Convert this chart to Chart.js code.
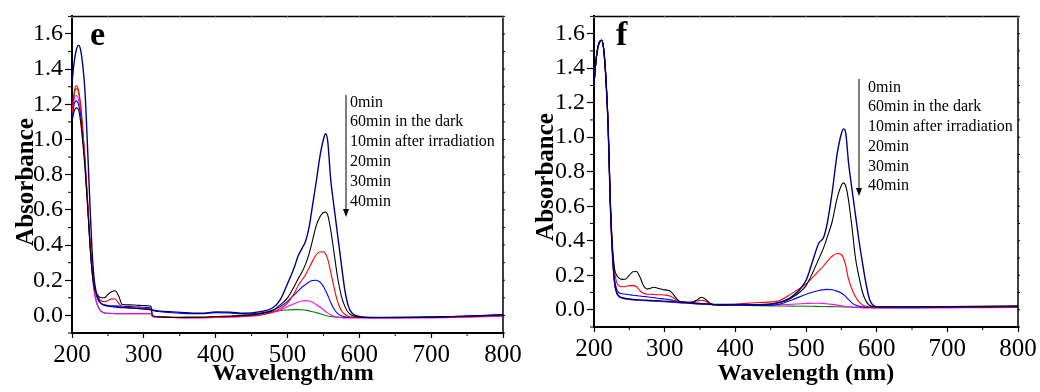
<!DOCTYPE html>
<html>
<head>
<meta charset="utf-8">
<script src="https://cdn.jsdelivr.net/npm/chart.js@4.4.1/dist/chart.umd.min.js"></script>
<style>
  html, body { margin: 0; padding: 0; background: #fff; }
  #wrap { position: relative; width: 1040px; height: 392px; }
  #wrap canvas { position: absolute; left: 0; top: 0; }
</style>
</head>
<body>
<div id="wrap">
  <canvas id="panelE" width="1040" height="392"></canvas>
  <canvas id="panelF" width="1040" height="392"></canvas>
</div>
<script>
// ---- spectra (absorbance vs wavelength, nm) ----
const LEGEND_LABELS = ["0min", "60min in the dark", "10min after irradiation", "20min", "30min", "40min"];
const LINE_COLORS = ["#000080", "#000000", "#ff0000", "#0000ff", "#ff00ff", "#008000"];

const X_TICKS = [200, 300, 400, 500, 600, 700, 800];
const X_MINOR = [250, 350, 450, 550, 650, 750];
const Y_TICKS = [0, 0.2, 0.4, 0.6, 0.8, 1.0, 1.2, 1.4, 1.6];
const Y_MINOR = [-0.1, 0.1, 0.3, 0.5, 0.7, 0.9, 1.1, 1.3, 1.5, 1.7];

// panel e
const WL_E = [
  200, 203, 206, 209, 212, 215, 218, 222, 225, 228,
  231, 235, 240, 245, 250, 255, 260, 265, 270, 280,
  290, 300, 310, 312, 320, 340, 360, 380, 400, 420,
  440, 460, 480, 490, 500, 510, 515, 520, 525, 530,
  535, 540, 545, 550, 553, 556, 560, 565, 570, 575,
  580, 585, 590, 600, 620, 650, 700, 750, 800
];
const E_0MIN = [
  1.32, 1.44, 1.51, 1.535, 1.51, 1.42, 1.28, 0.92, 0.63, 0.36,
  0.20, 0.11, 0.07, 0.058, 0.053, 0.05, 0.048, 0.046, 0.044, 0.042,
  0.04, 0.036, 0.032, 0.03, 0.026, 0.02, 0.015, 0.012, 0.02, 0.018,
  0.012, 0.02, 0.045, 0.09, 0.18, 0.28, 0.34, 0.38, 0.42, 0.5,
  0.63, 0.76, 0.9, 1.0, 1.033, 0.99, 0.78, 0.61, 0.45, 0.29,
  0.14, 0.05, 0.012, -0.006, -0.012, -0.012, -0.01, -0.004, 0.004
];
const E_60DARK = [
  1.10, 1.16, 1.18, 1.17, 1.10, 0.98, 0.84, 0.60, 0.40, 0.25,
  0.16, 0.12, 0.10, 0.10, 0.12, 0.135, 0.14, 0.11, 0.062, 0.06,
  0.058, 0.056, 0.052, 0.0, -0.008, -0.012, -0.01, -0.01, -0.006, -0.004,
  0.0, 0.008, 0.03, 0.06, 0.10, 0.17, 0.21, 0.245, 0.29, 0.35,
  0.43, 0.51, 0.56, 0.585, 0.588, 0.57, 0.49, 0.35, 0.21, 0.11,
  0.05, 0.015, 0.0, -0.01, -0.012, -0.012, -0.01, -0.005, 0.003
];
const E_10MIN = [
  1.15, 1.27, 1.305, 1.28, 1.20, 1.06, 0.90, 0.64, 0.42, 0.26,
  0.16, 0.11, 0.085, 0.078, 0.085, 0.094, 0.093, 0.07, 0.048, 0.044,
  0.042, 0.04, 0.038, -0.002, -0.008, -0.01, -0.012, -0.012, -0.01, -0.008,
  -0.004, 0.002, 0.02, 0.04, 0.07, 0.13, 0.17, 0.20, 0.23, 0.27,
  0.31, 0.345, 0.36, 0.362, 0.35, 0.32, 0.25, 0.155, 0.075, 0.028,
  0.005, -0.006, -0.01, -0.012, -0.013, -0.013, -0.012, -0.008, 0.0
];
const E_20MIN = [
  1.12, 1.20, 1.22, 1.20, 1.14, 1.02, 0.87, 0.62, 0.42, 0.27,
  0.17, 0.10, 0.07, 0.06, 0.056, 0.055, 0.054, 0.053, 0.052, 0.05,
  0.048, 0.046, 0.04, 0.03, 0.022, 0.015, 0.01, 0.01, 0.016, 0.014,
  0.008, 0.012, 0.03, 0.05, 0.08, 0.12, 0.14, 0.16, 0.175, 0.19,
  0.198, 0.20, 0.19, 0.165, 0.14, 0.115, 0.075, 0.035, 0.01, -0.002,
  -0.008, -0.01, -0.012, -0.012, -0.012, -0.012, -0.01, -0.005, 0.002
];
const E_30MIN = [
  1.15, 1.23, 1.25, 1.23, 1.16, 1.03, 0.87, 0.61, 0.40, 0.24,
  0.13, 0.06, 0.025, 0.014, 0.012, 0.011, 0.01, 0.01, 0.01, 0.01,
  0.01, 0.01, 0.01, -0.006, -0.01, -0.012, -0.014, -0.014, -0.012, -0.01,
  -0.006, 0.0, 0.018, 0.03, 0.05, 0.068, 0.076, 0.082, 0.084, 0.082,
  0.075, 0.062, 0.048, 0.032, 0.022, 0.014, 0.004, -0.005, -0.01, -0.013,
  -0.015, -0.015, -0.015, -0.015, -0.015, -0.015, -0.014, -0.01, -0.004
];
const E_40MIN = [
  1.12, 1.25, 1.29, 1.27, 1.19, 1.05, 0.88, 0.62, 0.41, 0.25,
  0.14, 0.065, 0.028, 0.015, 0.012, 0.011, 0.01, 0.01, 0.01, 0.01,
  0.01, 0.01, 0.01, -0.006, -0.01, -0.012, -0.013, -0.012, -0.01, -0.006,
  0.0, 0.01, 0.022, 0.028, 0.031, 0.033, 0.033, 0.032, 0.03, 0.026,
  0.021, 0.016, 0.01, 0.004, 0.0, -0.003, -0.006, -0.009, -0.01, -0.011,
  -0.012, -0.012, -0.012, -0.012, -0.012, -0.011, -0.01, -0.005, 0.0
];

// panel f
const WL_F = [
  200, 203, 206, 209, 211, 214, 217, 220, 223, 226,
  229, 232, 235, 240, 245, 250, 255, 260, 265, 270,
  275, 280, 285, 290, 300, 307, 312, 318, 322, 330,
  340, 347, 352, 358, 365, 370, 380, 400, 433, 460,
  480, 500, 510, 518, 525, 530, 537, 544, 550, 553,
  556, 560, 565, 570, 575, 580, 585, 590, 600, 650,
  700, 750, 800
];
const F_0MIN = [
  1.31, 1.45, 1.53, 1.558, 1.562, 1.50, 1.33, 1.06, 0.62, 0.33,
  0.16, 0.10, 0.08, 0.07, 0.065, 0.062, 0.06, 0.058, 0.057, 0.056,
  0.055, 0.054, 0.053, 0.052, 0.05, 0.048, 0.046, 0.044, 0.043, 0.041,
  0.038, 0.036, 0.035, 0.034, 0.032, 0.031, 0.03, 0.03, 0.028, 0.04,
  0.076, 0.17, 0.29, 0.385, 0.42, 0.50, 0.68, 0.90, 1.02, 1.048,
  1.03, 0.86, 0.70, 0.55, 0.40, 0.27, 0.15, 0.06, 0.018, 0.016,
  0.017, 0.018, 0.02
];
const F_60DARK = [
  1.31, 1.45, 1.53, 1.558, 1.562, 1.50, 1.33, 1.08, 0.65, 0.38,
  0.24, 0.20, 0.185, 0.176, 0.178, 0.20, 0.22, 0.222, 0.19, 0.14,
  0.12, 0.125, 0.13, 0.125, 0.115, 0.11, 0.09, 0.06, 0.047, 0.043,
  0.045, 0.06, 0.072, 0.06, 0.035, 0.028, 0.028, 0.03, 0.03, 0.04,
  0.07, 0.14, 0.22, 0.294, 0.36, 0.42, 0.51, 0.645, 0.72, 0.735,
  0.72, 0.64, 0.48, 0.30, 0.19, 0.10, 0.05, 0.025, 0.018, 0.016,
  0.017, 0.018, 0.02
];
const F_10MIN = [
  1.31, 1.45, 1.53, 1.558, 1.562, 1.50, 1.33, 1.07, 0.64, 0.36,
  0.22, 0.16, 0.14, 0.133, 0.135, 0.14, 0.14, 0.135, 0.11, 0.095,
  0.09, 0.09, 0.088, 0.087, 0.085, 0.08, 0.07, 0.055, 0.045, 0.043,
  0.045, 0.052, 0.055, 0.05, 0.035, 0.03, 0.03, 0.032, 0.042, 0.05,
  0.095, 0.15, 0.19, 0.225, 0.255, 0.28, 0.31, 0.326, 0.32, 0.30,
  0.26, 0.18, 0.12, 0.075, 0.045, 0.028, 0.02, 0.016, 0.014, 0.013,
  0.013, 0.014, 0.015
];
const F_20MIN = [
  1.31, 1.45, 1.53, 1.558, 1.562, 1.50, 1.33, 1.06, 0.63, 0.34,
  0.18, 0.12, 0.10, 0.093, 0.09, 0.087, 0.084, 0.082, 0.08, 0.077,
  0.075, 0.072, 0.07, 0.067, 0.062, 0.058, 0.055, 0.05, 0.047, 0.044,
  0.04, 0.038, 0.036, 0.034, 0.032, 0.03, 0.028, 0.027, 0.025, 0.03,
  0.057, 0.09, 0.103, 0.112, 0.116, 0.118, 0.116, 0.108, 0.097, 0.088,
  0.078, 0.06, 0.04, 0.027, 0.02, 0.016, 0.014, 0.013, 0.012, 0.012,
  0.013, 0.014, 0.015
];
const F_30MIN = [
  1.31, 1.45, 1.53, 1.558, 1.562, 1.50, 1.33, 1.06, 0.62, 0.33,
  0.16, 0.10, 0.078, 0.068, 0.063, 0.06, 0.058, 0.057, 0.055, 0.054,
  0.053, 0.052, 0.051, 0.05, 0.048, 0.046, 0.044, 0.042, 0.041, 0.039,
  0.036, 0.034, 0.033, 0.032, 0.03, 0.029, 0.028, 0.028, 0.025, 0.028,
  0.032, 0.036, 0.038, 0.038, 0.036, 0.034, 0.031, 0.027, 0.023, 0.021,
  0.019, 0.017, 0.015, 0.013, 0.012, 0.011, 0.011, 0.01, 0.01, 0.01,
  0.011, 0.012, 0.013
];
const F_40MIN = [
  1.31, 1.45, 1.53, 1.558, 1.562, 1.50, 1.33, 1.06, 0.62, 0.33,
  0.16, 0.10, 0.077, 0.067, 0.062, 0.059, 0.057, 0.056, 0.054, 0.053,
  0.052, 0.051, 0.05, 0.049, 0.047, 0.045, 0.043, 0.041, 0.04, 0.038,
  0.035, 0.033, 0.032, 0.031, 0.029, 0.028, 0.027, 0.027, 0.023, 0.022,
  0.021, 0.02, 0.02, 0.019, 0.019, 0.018, 0.018, 0.017, 0.017, 0.016,
  0.016, 0.016, 0.015, 0.015, 0.015, 0.015, 0.015, 0.015, 0.015, 0.017,
  0.019, 0.021, 0.023
];

const SERIF = "'Liberation Serif', 'Times New Roman', serif";

// frame, minor ticks, arrow legend, panel letter and axis titles
const framePlugin = {
  id: "frame",
  afterDraw(chart, args, o) {
    const { ctx, chartArea: a, scales: { x, y } } = chart;
    const seg = (x1, y1, x2, y2) => { ctx.beginPath(); ctx.moveTo(x1, y1); ctx.lineTo(x2, y2); ctx.stroke(); };
    ctx.save();
    ctx.strokeStyle = "#000";
    ctx.lineWidth = 1.5;
    ctx.beginPath();
    ctx.moveTo(a.left, a.top);
    ctx.lineTo(a.right, a.top);
    ctx.lineTo(a.right, a.bottom);
    ctx.stroke();

    ctx.lineWidth = 1;
    X_MINOR.forEach(v => { const px = x.getPixelForValue(v); seg(px, a.bottom, px, a.bottom + 3); });
    Y_MINOR.forEach(v => { const py = y.getPixelForValue(v); seg(a.left - 4, py, a.left, py); });
    Y_TICKS.concat(Y_MINOR).forEach(v => { const py = y.getPixelForValue(v); seg(a.right, py, a.right + 2, py); });
    ctx.strokeStyle = "#aaa";
    X_TICKS.concat(X_MINOR).forEach(v => { const px = x.getPixelForValue(v); seg(px, a.top, px, a.top + 2); });

    // arrow
    ctx.strokeStyle = "#000";
    ctx.fillStyle = "#000";
    ctx.lineWidth = 1;
    seg(o.arrowX, o.arrowTop, o.arrowX, o.arrowTip - 6);
    ctx.beginPath();
    ctx.moveTo(o.arrowX, o.arrowTip);
    ctx.lineTo(o.arrowX - 3, o.arrowTip - 8);
    ctx.lineTo(o.arrowX + 3, o.arrowTip - 8);
    ctx.closePath();
    ctx.fill();

    ctx.textAlign = "left";
    ctx.textBaseline = "alphabetic";
    ctx.font = "16px " + SERIF;
    LEGEND_LABELS.forEach((t, i) => ctx.fillText(t, o.textX, o.textY0 + i * o.lineGap));

    ctx.font = "bold 34px " + SERIF;
    ctx.fillText(o.letter, o.letterX, 45);

    ctx.font = "bold 24px " + SERIF;
    ctx.textAlign = "center";
    ctx.fillText(o.xTitle, o.xTitleX, 380);
    ctx.translate(o.yTitleX, o.yTitleY);
    ctx.rotate(-Math.PI / 2);
    ctx.font = "bold 25px " + SERIF;
    ctx.fillText("Absorbance", 0, 0);
    ctx.restore();
  }
};

function buildPanel(canvasId, wl, series, box, deco) {
  return new Chart(document.getElementById(canvasId), {
    type: "line",
    data: {
      datasets: series.map((s, i) => ({
        label: LEGEND_LABELS[i],
        data: wl.map((w, k) => ({ x: w, y: s[k] })),
        borderColor: LINE_COLORS[i],
        borderWidth: i === 0 ? 1.4 : 1.1,
        pointRadius: 0,
        cubicInterpolationMode: "monotone",
        fill: false
      }))
    },
    options: {
      responsive: false,
      animation: false,
      devicePixelRatio: 1,
      layout: { padding: { top: box.top, right: box.right, left: box.left, bottom: 0 } },
      plugins: { legend: { display: false }, tooltip: { enabled: false }, frame: deco },
      scales: {
        x: {
          type: "linear",
          min: 200,
          max: 800,
          afterBuildTicks: sc => { sc.ticks = X_TICKS.map(v => ({ value: v })); },
          afterFit: sc => { sc.height = box.xh; },
          grid: { drawOnChartArea: false, color: "#000", tickLength: 5, tickWidth: 1.2 },
          border: { color: "#000", width: 2 },
          ticks: { color: "#000", font: { family: SERIF, size: 25 }, padding: 2, maxRotation: 0 }
        },
        y: {
          type: "linear",
          min: -0.1,
          max: 1.7,
          afterBuildTicks: sc => { sc.ticks = Y_TICKS.map(v => ({ value: v })); },
          afterFit: sc => { sc.width = box.yw; },
          grid: { drawOnChartArea: false, color: "#000", tickLength: 7, tickWidth: 1.2 },
          border: { color: "#000", width: 2 },
          ticks: { color: "#000", font: { family: SERIF, size: 24 }, padding: 2, callback: v => v.toFixed(1) }
        }
      }
    },
    plugins: [framePlugin]
  });
}

buildPanel("panelE", WL_E, [E_0MIN, E_60DARK, E_10MIN, E_20MIN, E_30MIN, E_40MIN],
  { left: 0, yw: 72, top: 12, right: 1040 - 503, xh: 392 - 333 },
  { letter: "e", letterX: 90, arrowX: 346, arrowTop: 95, arrowTip: 217,
    textX: 350, textY0: 106.5, lineGap: 19.8,
    xTitle: "Wavelength/nm", xTitleX: 293, yTitleX: 33, yTitleY: 182 });

buildPanel("panelF", WL_F, [F_0MIN, F_60DARK, F_10MIN, F_20MIN, F_30MIN, F_40MIN],
  { left: 520, yw: 74, top: 12, right: 1040 - 1018, xh: 392 - 327 },
  { letter: "f", letterX: 616, arrowX: 859, arrowTop: 79, arrowTip: 196,
    textX: 868, textY0: 91.7, lineGap: 19.7,
    xTitle: "Wavelength (nm)", xTitleX: 806, yTitleX: 553, yTitleY: 177 });
</script>
</body>
</html>
